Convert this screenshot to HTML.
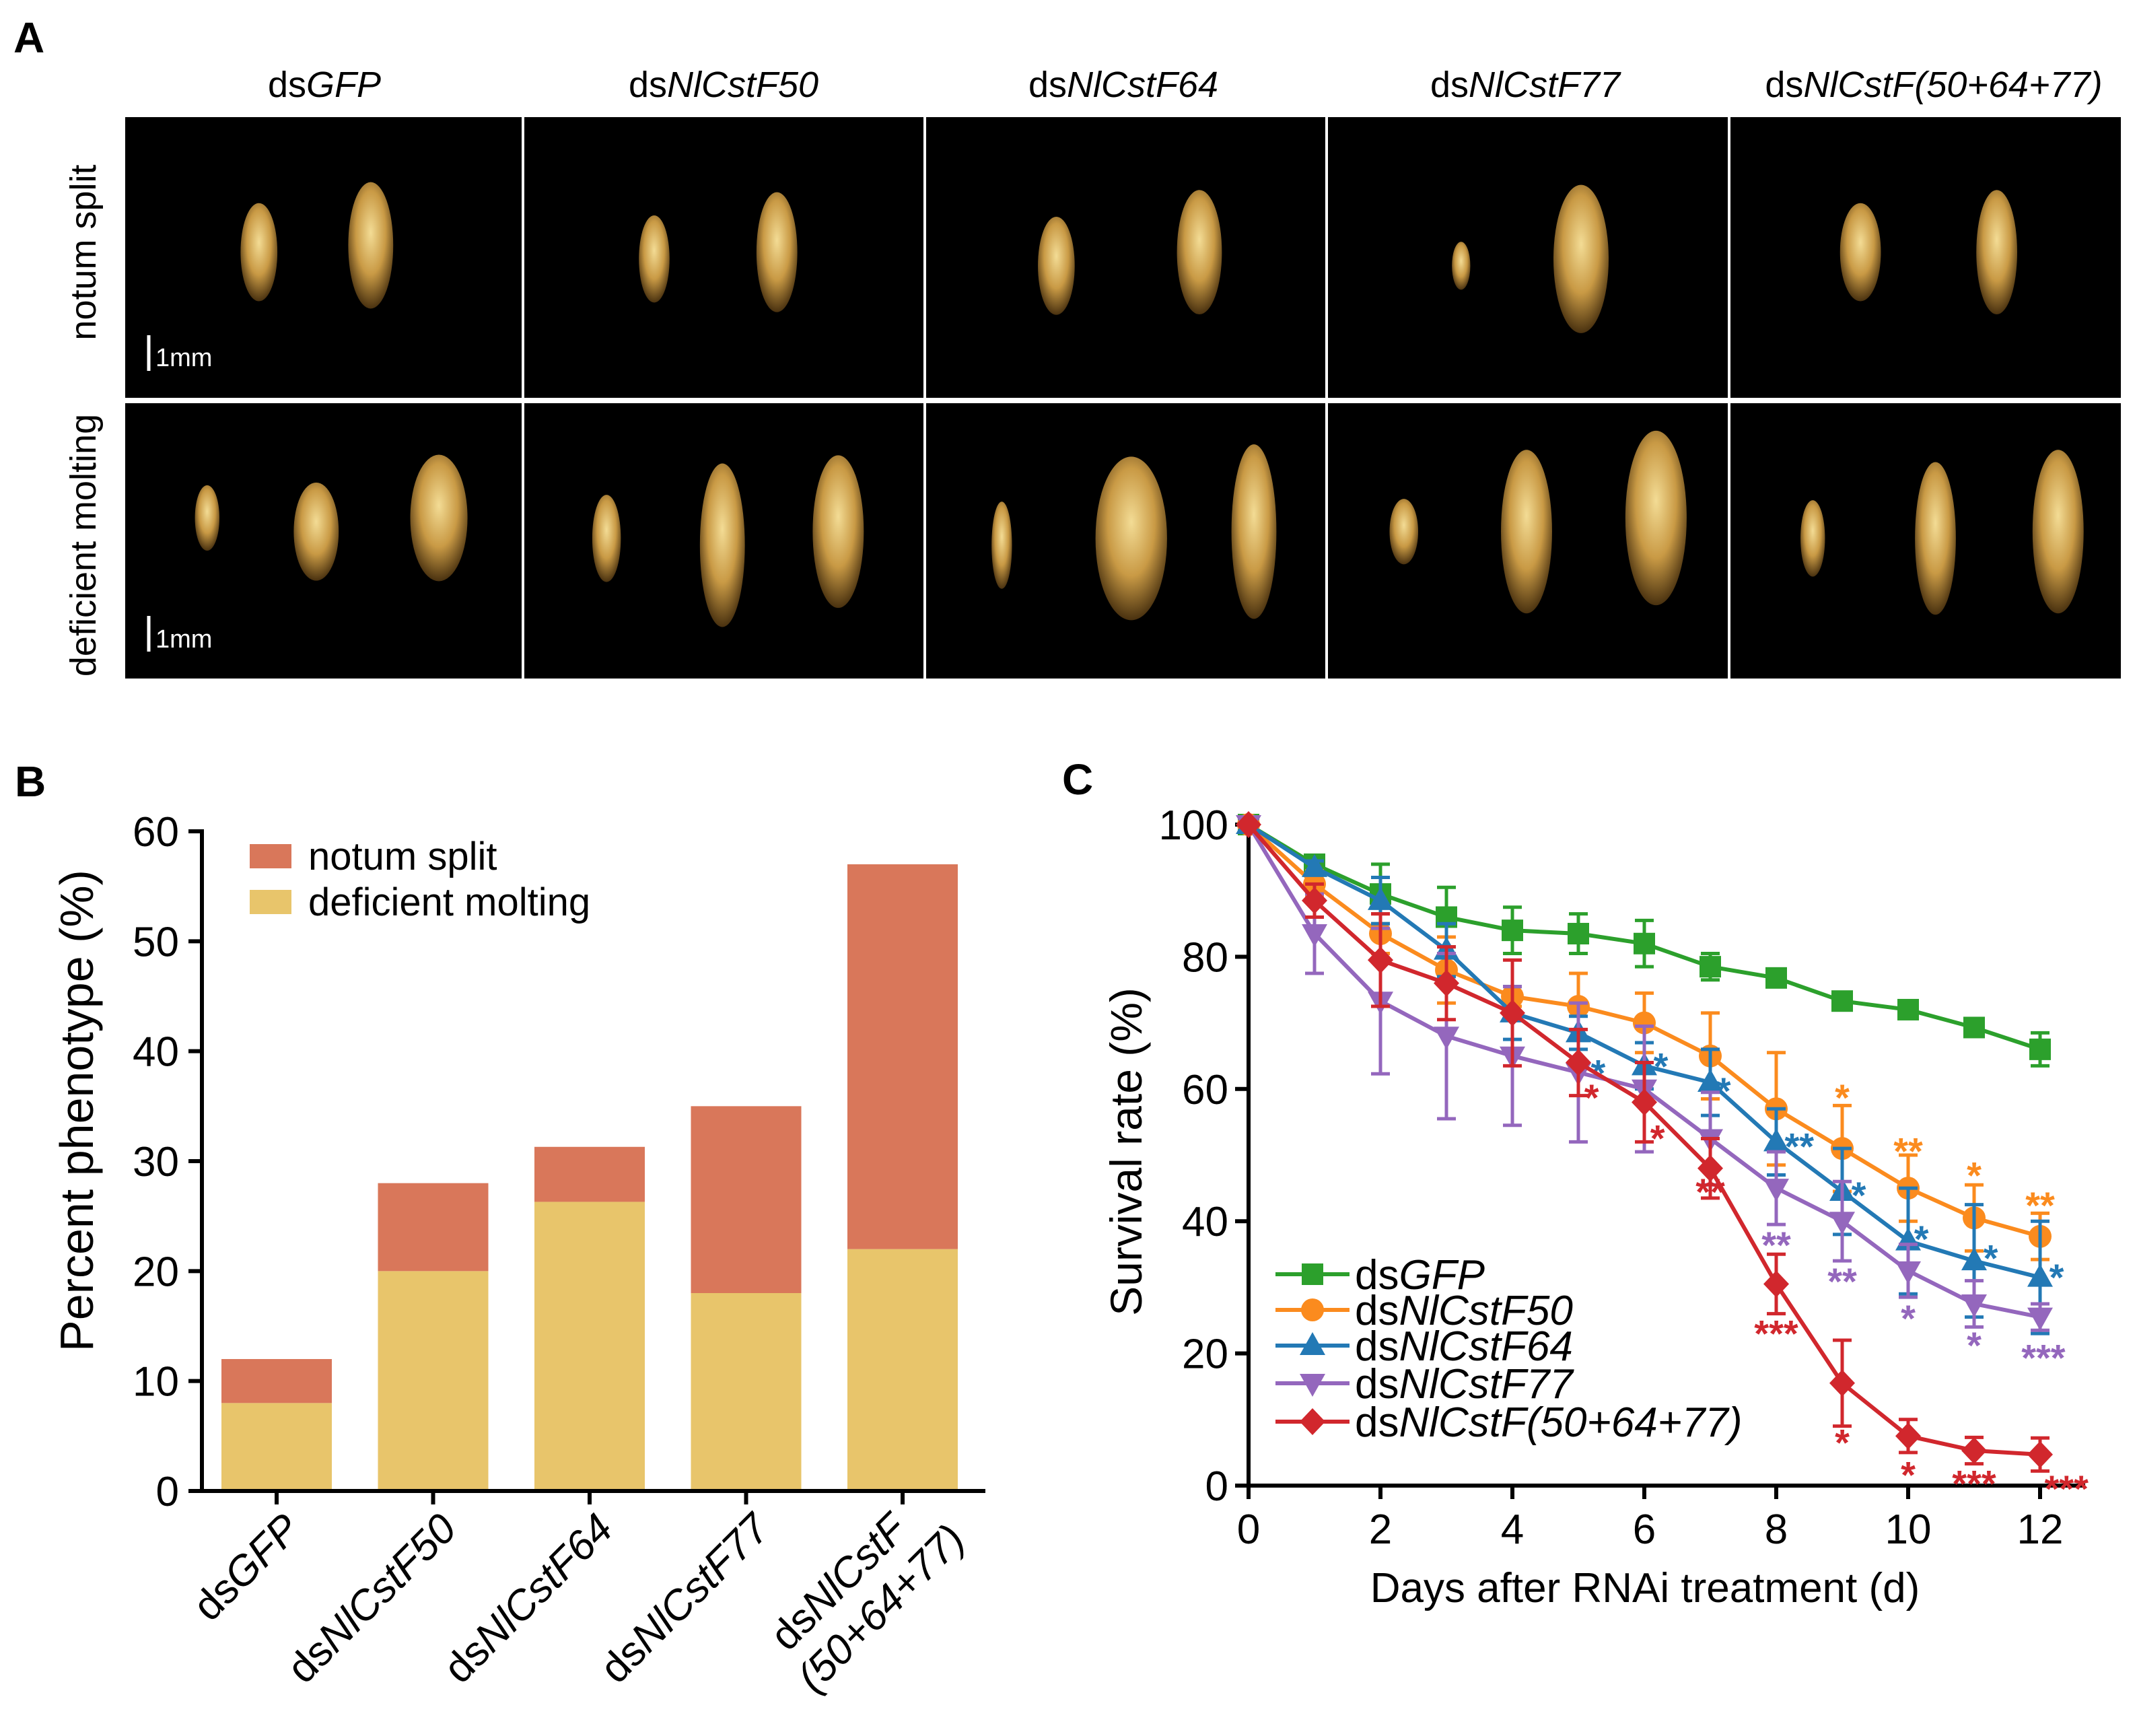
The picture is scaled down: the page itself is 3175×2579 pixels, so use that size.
<!DOCTYPE html>
<html><head><meta charset="utf-8">
<style>
html,body{margin:0;padding:0;background:#fff;}
svg{display:block;font-family:"Liberation Sans",Arial,sans-serif;}
</style></head>
<body>
<svg id="fig" width="3175" height="2579" viewBox="0 0 3175 2579" xmlns="http://www.w3.org/2000/svg">
<defs>
<radialGradient id="bug" cx="50%" cy="40%" r="60%">
<stop offset="0" stop-color="#f3dc95"/><stop offset="0.55" stop-color="#c99a45"/><stop offset="1" stop-color="#4a3210"/>
</radialGradient>
</defs>
<!-- Panel A -->
<g>
<text x="20" y="78" font-size="64" font-weight="bold">A</text>
<g font-size="54" text-anchor="middle">
<text x="482" y="144">ds<tspan font-style="italic">GFP</tspan></text>
<text x="1075" y="144">ds<tspan font-style="italic">NlCstF50</tspan></text>
<text x="1669" y="144">ds<tspan font-style="italic">NlCstF64</tspan></text>
<text x="2266" y="144">ds<tspan font-style="italic">NlCstF77</tspan></text>
<text x="2873" y="144">ds<tspan font-style="italic">NlCstF(50+64+77)</tspan></text>
</g>
<text transform="translate(142,375) rotate(-90)" font-size="54" text-anchor="middle">notum split</text>
<text transform="translate(142,810) rotate(-90)" font-size="54" text-anchor="middle">deficient molting</text>
<g id="photos"></g>
</g>
<!-- Panel B -->
<g id="panelB">
<text x="22" y="1183" font-size="64" font-weight="bold">B</text>
</g>
<!-- Panel C -->
<g id="panelC">
<text x="1578" y="1180" font-size="64" font-weight="bold">C</text>
</g>
</svg>
<script>
const NS='http://www.w3.org/2000/svg';
// ---------- Panel B data ----------
const bCategories=['dsGFP','dsNlCstF50','dsNlCstF64','dsNlCstF77','dsNlCstF(50+64+77)'];
const bDeficient=[8,20,26.3,18,22];
const bNotum=[4,8,5,17,35];
const bTicks=[0,10,20,30,40,50,60];
// ---------- Panel C data ----------
const cDays=[0,1,2,3,4,5,6,7,8,9,10,11,12];
const cSeriesNames=['dsGFP','dsNlCstF50','dsNlCstF64','dsNlCstF77','dsNlCstF(50+64+77)'];
const gfpVals=[100,94,89.5,86,84,83.5,82,78.5,76.8,73.3,72,69.3,66];
const gfpErr=[0,1,4.5,4.5,3.5,3,3.5,2,1,1,1,1,2.5];
const f50Vals=[100,91,83.5,78,74,72.5,70,65,57,51,45,40.5,37.7];
const f50Err=[0,2,3,5,1.5,5,4.5,6.5,8.5,6.5,5,5,3.5];
const f64Vals=[100,93.5,88.5,81,71.5,68.5,63.5,61,52,44.5,37,34,31.5];
const f64Err=[0,1,3.5,4,4,2.5,3.5,5,5,6.5,8,8.5,8.5];
const f77Vals=[100,83.5,73.3,68,65,62.5,60,52.5,45,40,32.5,27.5,25.5];
const f77Err=[0,6,11,12.5,10.5,10.5,9.5,7,5.5,6,4,3.5,2];
const comboVals=[100,88.5,79.5,76,71.5,64,58,48,30.5,15.5,7.5,5.3,4.7];
const comboErr=[0,2.5,7,5.5,8,5,6,4.5,4.5,6.5,2.5,2,2.5];
const cYTicks=[0,20,40,60,80,100];
const cXTicks=[0,2,4,6,8,10,12];
// significance labels: [day, value, text]
const f50Stars=[[9,59.8,'*'],[10,51.7,'**'],[11,48,'*'],[12,43.5,'**']];
const f64Stars=[[5.3,63.5,'*'],[6.25,64.5,'*'],[7.2,60.8,'*'],[8.35,52.4,'**'],[9.25,45,'*'],[10.2,38.4,'*'],[11.25,35.5,'*'],[12.25,32.6,'*']];
const f77Stars=[[8,37.5,'**'],[9,32,'**'],[10,26.4,'*'],[11,22.3,'*'],[12.05,20.4,'***']];
const comboStars=[[5.2,59.8,'*'],[6.2,53.6,'*'],[7,45.5,'**'],[8,24.1,'***'],[9,7.6,'*'],[10,2.7,'*'],[11,1.4,'***'],[12.4,0.6,'***']];

function el(tag,attrs,parent){const e=document.createElementNS(NS,tag);for(const k in attrs)e.setAttribute(k,attrs[k]);if(parent)parent.appendChild(e);return e;}

// ---------- Panel A photos ----------
const photos=document.getElementById('photos');
const colX=[186,779,1376,1973,2571,3155];
const rowY=[[174,591],[599,1008]];
for(let r=0;r<2;r++){for(let c=0;c<5;c++){
 const p=el('rect',{x:colX[c],y:rowY[r][0],width:colX[c+1]-colX[c]-4,height:rowY[r][1]-rowY[r][0],fill:'#000'},photos);
 
 
}}
const bugs=[[190,185,18,45],[272,180,22,58],[480,190,15,40],[570,185,20,55],[775,195,18,45],[880,185,22,57],[1072,195,9,22],[1160,190,27,68],[1365,185,20,45],[1465,185,20,57],
[152,380,12,30],[232,390,22,45],[322,380,28,58],[445,395,14,40],[530,400,22,75],[615,390,25,70],[735,400,10,40],[830,395,35,75],[920,390,22,80],[1030,390,14,30],[1120,390,25,75],[1215,380,30,80],[1330,395,12,35],[1420,395,20,70],[1510,390,25,75]];
bugs.forEach((b)=>{const e=el('ellipse',{cx:b[0]*2.025,cy:b[1]*2.025,rx:b[2]*2.025*0.75,ry:b[3]*2.025*0.8,fill:'url(#bug)'},photos);
 
 });
[[498,551,530],[915,968,948]].forEach((s)=>{
 const l=el('line',{x1:221,x2:221,y1:s[0],y2:s[1],stroke:'#fff','stroke-width':5},photos);
 
 
 const t=el('text',{x:231,y:s[2]+14,fill:'#fff','font-size':38},photos);t.textContent='1mm';
 
 
});

// ---------- Panel B ----------
const B=document.getElementById('panelB');
const bx0=300,bx1=1464,by0=2215,by60=1235;
const byS=v=>by0-(v/60)*(by0-by60);
const bxS=i=>411+i*232.5;
const bw=164;
for(let i=0;i<bCategories.length;i++){
 const r1=el('rect',{x:bxS(i)-bw/2,y:byS(bDeficient[i]),width:bw,height:by0-byS(bDeficient[i]),fill:'#e8c56b'},B);
 
 
 const top=bDeficient[i]+bNotum[i];
 const r2=el('rect',{x:bxS(i)-bw/2,y:byS(top),width:bw,height:byS(bDeficient[i])-byS(top),fill:'#d9775a'},B);
 
 
}
let ax=el('path',{d:`M${bx0},${by60-3} V${by0} H${bx1}`,fill:'none',stroke:'#000','stroke-width':6},B);


bTicks.forEach(v=>{
 const tk=el('line',{x1:bx0-20,x2:bx0,y1:byS(v),y2:byS(v),stroke:'#000','stroke-width':6},B);
 
 
 const t=el('text',{x:bx0-34,y:byS(v)+22,'font-size':62,'text-anchor':'end'},B);t.textContent=v;
 
 
});
bCategories.forEach((c,i)=>{
 const tk=el('line',{x1:bxS(i),x2:bxS(i),y1:by0,y2:by0+20,stroke:'#000','stroke-width':6},B);
 
 
 const g=el('g',{transform:`translate(${bxS(i)+38},${by0+60}) rotate(-45)`},B);
 
 
 if(i<4){const t=el('text',{x:0,y:0,'font-size':62,'text-anchor':'end'},g);
  t.innerHTML='ds<tspan font-style="italic">'+c.slice(2)+'</tspan>';}
 else{const t=el('text',{x:-20,y:-20,'font-size':62,'text-anchor':'end'},g);
  t.innerHTML='ds<tspan font-style="italic">NlCstF</tspan>';
  const t2=el('text',{x:30,y:52,'font-size':62,'text-anchor':'end','font-style':'italic'},g);t2.textContent='(50+64+77)';}
});
let yt=el('text',{transform:'translate(138,1650) rotate(-90)','font-size':70,'text-anchor':'middle'},B);yt.textContent='Percent phenotype (%)';


[['notum split','#d9775a',1272],['deficient molting','#e8c56b',1340]].forEach((l,i)=>{
 const r=el('rect',{x:371,y:l[2]-18,width:62,height:36,fill:l[1]},B);
 
 
 const t=el('text',{x:458,y:l[2]+20,'font-size':58},B);t.textContent=l[0];
 
 
});

// ---------- Panel C ----------
const C=document.getElementById('panelC');
const cx0=1855,cx12=3031,cy0=2207,cy100=1225;
const xC=d=>cx0+d*(cx12-cx0)/12;
const yC=v=>cy0-v*(cy0-cy100)/100;
let cax=el('path',{d:`M${cx0},${cy100-8} V${cy0} H3098`,fill:'none',stroke:'#000','stroke-width':6},C);


cYTicks.forEach(v=>{
 const tk=el('line',{x1:cx0-20,x2:cx0,y1:yC(v),y2:yC(v),stroke:'#000','stroke-width':6},C);
 
 
 const t=el('text',{x:cx0-30,y:yC(v)+22,'font-size':62,'text-anchor':'end'},C);t.textContent=v;
 
 
});
cXTicks.forEach(v=>{
 const tk=el('line',{x1:xC(v),x2:xC(v),y1:cy0,y2:cy0+20,stroke:'#000','stroke-width':6},C);
 
 
 const t=el('text',{x:xC(v),y:cy0+86,'font-size':62,'text-anchor':'middle'},C);t.textContent=v;
 
 
});
let cyt=el('text',{transform:'translate(1696,1711) rotate(-90)','font-size':66,'text-anchor':'middle'},C);cyt.textContent='Survival rate (%)';


let cxt=el('text',{x:2444,y:2380,'font-size':62,'text-anchor':'middle'},C);cxt.textContent='Days after RNAi treatment (d)';



function marker(shape,x,y,color,parent){
 const s=16;let e;
 if(shape==='square')e=el('rect',{x:x-s,y:y-s,width:2*s,height:2*s,fill:color},parent);
 else if(shape==='circle')e=el('circle',{cx:x,cy:y,r:s+1,fill:color},parent);
 else if(shape==='up')e=el('polygon',{points:`${x},${y-s-4} ${x+s+3},${y+s-2} ${x-s-3},${y+s-2}`,fill:color},parent);
 else if(shape==='down')e=el('polygon',{points:`${x},${y+s+4} ${x+s+3},${y-s+2} ${x-s-3},${y-s+2}`,fill:color},parent);
 else e=el('polygon',{points:`${x},${y-s-4} ${x+s+3},${y} ${x},${y+s+4} ${x-s-3},${y}`,fill:color},parent);
 return e;
}
const series=[[gfpVals,gfpErr,'#2ca02c','square'],[f50Vals,f50Err,'#fb8b1e','circle'],[f64Vals,f64Err,'#2379b5','up'],[f77Vals,f77Err,'#9467bd','down'],[comboVals,comboErr,'#d1272d','diamond']];
const starSets=[[],f50Stars,f64Stars,f77Stars,comboStars];
series.forEach((s,si)=>{
 const g=el('g',{},C);
 
 
 const vals=s[0],err=s[1],col=s[2];
 cDays.forEach((d,i)=>{
  if(err[i]>0){
   const eb=el('path',{d:`M${xC(d)},${yC(vals[i]-err[i])} V${yC(vals[i]+err[i])} M${xC(d)-14},${yC(vals[i]+err[i])} h28 M${xC(d)-14},${yC(vals[i]-err[i])} h28`,stroke:col,'stroke-width':5,fill:'none'},g);
   
   
  }
 });
 const pl=el('polyline',{points:cDays.map((d,i)=>xC(d)+','+yC(vals[i])).join(' '),fill:'none',stroke:col,'stroke-width':6},g);
 
 
 cDays.forEach((d,i)=>{const m=marker(s[3],xC(d),yC(vals[i]),col,g);
  
  });
 starSets[si].forEach(st=>{
  const t=el('text',{x:xC(st[0]),y:yC(st[1])+30,'font-size':56,'font-weight':'bold','text-anchor':'middle',fill:col},g);t.textContent=st[2];
  
  
 });
});
const legY=[1893,1946,1999,2055,2112];
series.forEach((s,i)=>{
 const l=el('line',{x1:1895,x2:2005,y1:legY[i],y2:legY[i],stroke:s[2],'stroke-width':6},C);
 
 
 const m=marker(s[3],1950,legY[i],s[2],C);
 
 
 const t=el('text',{x:2013,y:legY[i]+22,'font-size':62},C);
 t.innerHTML='ds<tspan font-style="italic">'+cSeriesNames[i].slice(2)+'</tspan>';
 
 
});
</script>
</body></html>
